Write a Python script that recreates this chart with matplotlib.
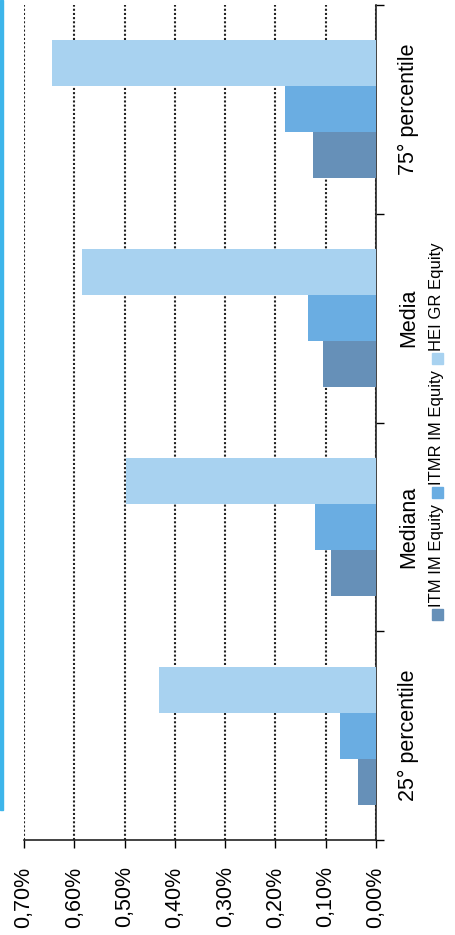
import numpy as np
import matplotlib.pyplot as plt
from matplotlib.patches import Rectangle
from matplotlib import font_manager

plt.rcParams['font.family'] = ['Liberation Sans', 'DejaVu Sans']

# Categories (bottom to top) and series values in percent
categories = ['25° percentile', 'Mediana', 'Media', '75° percentile']
series_names = ['ITM IM Equity', 'ITMR IM Equity', 'HEI GR Equity']
itm = [0.035, 0.09, 0.105, 0.125]
itmr = [0.072, 0.122, 0.136, 0.18]
hei = [0.432, 0.497, 0.585, 0.645]
value_ticks = [0.0, 0.1, 0.2, 0.3, 0.4, 0.5, 0.6, 0.7]
tick_labels = ['0,00%', '0,10%', '0,20%', '0,30%', '0,40%', '0,50%', '0,60%', '0,70%']

colors = ['#6690b8', '#6aade2', '#a8d2f0']

# narrow face for the legend if available
names = {f.name for f in font_manager.fontManager.ttflist}
if 'Liberation Sans Narrow' in names:
    legend_family, legend_size = ['Liberation Sans Narrow', 'DejaVu Sans'], 14
else:
    legend_family, legend_size = ['Liberation Sans', 'DejaVu Sans'], 12

W, H = 455, 935
fig = plt.figure(figsize=(W / 100, H / 100), dpi=100)
fig.patch.set_facecolor('white')

# page edge strip on the left
fig.patches.append(Rectangle((0, 125 / H), 3 / W, 1 - 125 / H,
                             transform=fig.transFigure, color='#3db5ea', zorder=0))

ax = fig.add_axes([24 / W, (H - 840) / H, (376 - 24) / W, (840 - 5) / H])

pos = np.arange(len(categories))
bw = 0.22
for i, (vals, c) in enumerate(zip([itm, itmr, hei], colors)):
    ax.barh(pos + (i - 1) * bw, vals, height=bw, color=c, zorder=3, label=series_names[i])

ax.set_xlim(0.7, 0.0)
ax.set_ylim(-0.5, len(categories) - 0.5)

# value axis along the bottom, labels turned to read upward
ax.set_xticks(value_ticks)
ax.set_xticklabels(tick_labels, rotation=90, va='top', ha='center', fontsize=15.5)
ax.tick_params(axis='x', direction='out', length=6, width=1, pad=13, colors='black')
ax.xaxis.grid(True, linestyle=(0, (1, 1)), color='#222222', linewidth=1.5, zorder=1)

# category axis on the right
ax.yaxis.tick_right()
ax.set_yticks(pos)
ax.set_yticklabels(categories, rotation=90, va='center', ha='left', fontsize=15.5)
ax.set_yticks(np.arange(-0.5, len(categories)), minor=True)
ax.tick_params(axis='y', which='major', length=0, pad=16)
ax.tick_params(axis='y', which='minor', direction='out', length=6, width=1)

for s in ['left', 'top']:
    ax.spines[s].set_visible(False)
for s in ['right', 'bottom']:
    ax.spines[s].set_linewidth(1.2)
    ax.spines[s].set_color('#222222')

# legend, stacked upward along the right edge
fig.canvas.draw()
renderer = fig.canvas.get_renderer()
x_leg = 437 / W
y = (H - 620) / H
sq = 11
for name, c in zip(series_names, colors):
    fig.patches.append(Rectangle((x_leg - sq / 2 / W, y), sq / W, sq / H,
                                 transform=fig.transFigure, color=c))
    y += (sq + 2) / H
    t = fig.text(x_leg, y, name, rotation=90, ha='center', va='bottom',
                 fontsize=legend_size, family=legend_family)
    bb = t.get_window_extent(renderer)
    y += bb.height / H + 6 / H

fig.savefig('out.png', dpi=100)
